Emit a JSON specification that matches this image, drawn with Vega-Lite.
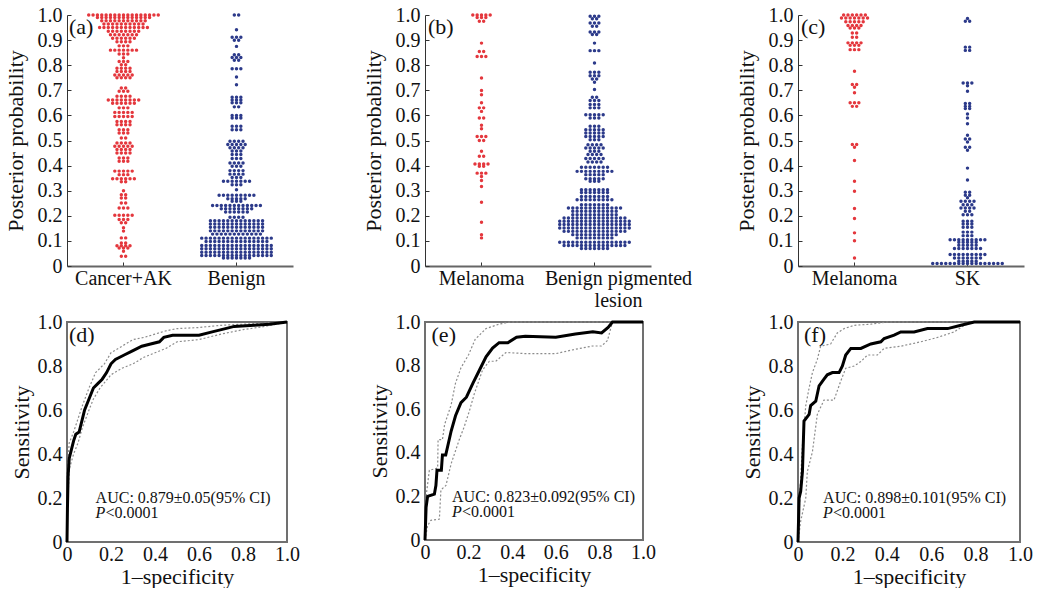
{
  "$schema": "https://vega.github.io/schema/vega-lite/v6.json",
  "background": "white",
  "padding": {"left": 4, "top": 5, "right": 4, "bottom": 0},
  "columns": 3,
  "bounds": "flush",
  "spacing": {"row": 56, "column": 132},
  "config": {
    "font": "Liberation Serif",
    "axis": {"labelFont": "Liberation Serif", "titleFont": "Liberation Serif", "labelFontSize": 20, "titleFontSize": 22, "titleFontWeight": "normal", "labelColor": "#111", "titleColor": "#111", "grid": false, "labelFlush": false, "labelOverlap": false},
    "axisY": {"values": [0,0.1,0.2,0.3,0.4,0.5,0.6,0.7,0.8,0.9,1]}
  },
  "concat": [
    {
      "width": 226, "height": 251,
      "view": {"stroke": null},
      "layer": [
        {
          "data": {"values": [1,1,1,1,1,1,1,1,1,1,1,1,1,1,1,1,1,
            0.99,0.99,0.99,0.99,0.99,0.99,0.99,0.99,0.99,0.99,0.99,0.99,0.99,
            0.977,0.977,0.977,0.977,0.977,0.977,0.977,0.977,0.977,0.977,0.977,
            0.964,0.964,0.964,0.964,0.964,0.964,0.964,0.964,0.964,0.964,
            0.95,0.95,0.95,0.95,0.95,0.95,0.95,0.95,0.95,0.95,0.95,0.95,
            0.935,0.935,0.935,0.935,0.935,0.935,0.935,0.935,
            0.921,0.921,0.921,0.921,0.921,0.921,0.921,
            0.907,0.907,0.907,0.907,0.907,0.907,
            0.893,0.893,0.893,0.893,
            0.877,0.877,0.877,
            0.86,0.86,0.86,0.86,0.86,0.86,0.86,
            0.845,0.845,0.845,
            0.83,
            0.815,0.815,0.815,
            0.802,0.802,
            0.788,0.788,0.788,0.788,
            0.775,0.775,0.775,0.775,
            0.761,0.761,0.761,0.761,0.761,
            0.75,0.75,0.75,0.75,
            0.709,0.709,
            0.696,0.696,0.696,
            0.676,0.676,0.676,0.676,
            0.661,0.661,0.661,0.661,0.661,0.661,0.661,0.661,
            0.648,0.648,0.648,0.648,0.648,0.648,
            0.63,0.63,0.63,
            0.612,0.612,0.612,0.612,0.612,
            0.596,0.596,0.596,0.596,0.596,
            0.576,0.576,0.576,0.576,
            0.563,0.563,0.563,0.563,
            0.543,0.543,0.543,
            0.53,0.53,0.53,
            0.51,0.51,
            0.49,0.49,0.49,0.49,
            0.477,0.477,0.477,0.477,0.477,
            0.464,0.464,0.464,0.464,
            0.45,0.45,0.45,0.45,
            0.43,0.43,0.43,
            0.417,0.417,0.417,
            0.378,0.378,0.378,0.378,0.378,
            0.364,0.364,0.364,
            0.348,0.348,0.348,0.348,0.348,0.348,
            0.336,0.336,
            0.3,
            0.284,0.284,
            0.271,0.271,
            0.251,0.251,
            0.231,0.231,0.231,
            0.202,0.202,0.202,0.202,0.202,
            0.185,0.185,0.185,
            0.172,0.172,
            0.152,
            0.139,
            0.112,0.112,
            0.092,0.092,
            0.081,0.081,0.081,0.081,
            0.072,0.072,0.072,
            0.059,
            0.039,0.039]},
          "transform": [
            {"joinaggregate": [{"op": "count", "as": "n"}], "groupby": ["data"]},
            {"window": [{"op": "row_number", "as": "k"}], "groupby": ["data"]},
            {"calculate": "datum.k - 1 - (datum.n - 1) / 2", "as": "off"}
          ],
          "mark": {"type": "circle", "size": 12, "opacity": 1, "color": "#e4373d"},
          "encoding": {
            "x": {"datum": "Cancer+AK", "type": "nominal", "scale": {"type": "band", "domain": ["Cancer+AK", "Benign"], "paddingInner": 0, "paddingOuter": 0},
              "axis": {"title": null, "labelAngle": 0, "domainColor": "#666", "domainWidth": 2, "tickColor": "#333", "tickSize": -4, "labelPadding": 6}},
            "xOffset": {"field": "off", "type": "quantitative", "scale": {"domain": [-13, 13], "nice": false, "zero": false}},
            "y": {"field": "data", "type": "quantitative", "scale": {"domain": [0, 1], "nice": false},
              "axis": {"title": "Posterior probability", "values": [0,0.1,0.2,0.3,0.4,0.5,0.6,0.7,0.8,0.9,1], "labelExpr": "datum.value == 0 ? '0' : format(datum.value, '.1f')", "domainColor": "#333", "tickColor": "#333", "tickSize": -4, "labelPadding": 9, "titlePadding": 10}}
          }
        },
        {
          "data": {"values": [1,1,
            0.941,
            0.911,0.911,0.911,
            0.899,0.899,
            0.875,
            0.842,0.842,
            0.831,0.831,0.831,
            0.82,0.82,
            0.786,0.786,0.786,
            0.753,
            0.722,
            0.672,0.672,0.672,
            0.661,0.661,0.661,
            0.65,0.65,0.65,
            0.634,0.634,
            0.6,0.6,0.6,
            0.59,0.59,0.59,
            0.557,0.557,0.557,
            0.543,0.543,0.543,
            0.497,0.497,0.497,0.497,
            0.484,0.484,0.484,0.484,0.484,
            0.471,0.471,0.471,0.471,
            0.458,0.458,0.458,
            0.444,0.444,0.444,
            0.428,0.428,0.428,
            0.41,0.41,0.41,0.41,
            0.397,0.397,0.397,
            0.38,0.38,0.38,0.38,
            0.366,0.366,0.366,0.366,
            0.353,0.353,0.353,
            0.338,0.338,0.338,0.338,0.338,0.338,0.338,
            0.324,0.324,0.324,
            0.304,
            0.282,0.282,0.282,0.282,0.282,0.282,0.282,0.282,0.282,
            0.268,0.268,0.268,0.268,0.268,
            0.258,0.258,0.258,
            0.241,0.241,0.241,0.241,0.241,0.241,0.241,0.241,0.241,0.241,0.241,0.241,
            0.228,0.228,0.228,0.228,0.228,0.228,0.228,0.228,
            0.215,0.215,0.215,0.215,0.215,0.215,
            0.194,0.194,0.194,0.194,
            0.18,0.18,0.18,0.18,0.18,0.18,0.18,0.18,0.18,0.18,0.18,0.18,0.18,
            0.167,0.167,0.167,0.167,0.167,0.167,0.167,0.167,0.167,0.167,0.167,0.167,0.167,
            0.154,0.154,0.154,0.154,0.154,0.154,0.154,0.154,0.154,0.154,0.154,0.154,0.154,
            0.14,0.14,0.14,0.14,0.14,0.14,0.14,0.14,0.14,0.14,0.14,0.14,0.14,
            0.127,0.127,0.127,0.127,0.127,0.127,0.127,0.127,0.127,0.127,0.127,0.127,
            0.111,0.111,0.111,0.111,0.111,0.111,0.111,0.111,0.111,0.111,0.111,0.111,0.111,0.111,0.111,0.111,0.111,
            0.098,0.098,0.098,0.098,0.098,0.098,0.098,0.098,0.098,0.098,0.098,0.098,0.098,0.098,0.098,
            0.082,0.082,0.082,0.082,0.082,0.082,0.082,0.082,0.082,0.082,0.082,0.082,0.082,0.082,0.082,0.082,0.082,
            0.069,0.069,0.069,0.069,0.069,0.069,0.069,0.069,0.069,0.069,0.069,0.069,0.069,0.069,0.069,0.069,0.069,
            0.055,0.055,0.055,0.055,0.055,0.055,0.055,0.055,0.055,0.055,0.055,0.055,0.055,0.055,0.055,0.055,0.055,
            0.042,0.042,0.042,0.042,0.042,0.042,0.042,0.042,0.042,0.042,0.042,0.042,0.042,0.042,0.042,0.042,0.042,
            0.032,0.032,0.032,0.032,0.032,0.032,0.032]},
          "transform": [
            {"joinaggregate": [{"op": "count", "as": "n"}], "groupby": ["data"]},
            {"window": [{"op": "row_number", "as": "k"}], "groupby": ["data"]},
            {"calculate": "datum.k - 1 - (datum.n - 1) / 2", "as": "off"}
          ],
          "mark": {"type": "circle", "size": 12, "opacity": 1, "color": "#2c3a8a"},
          "encoding": {
            "x": {"datum": "Benign", "type": "nominal", "scale": {"type": "band", "domain": ["Cancer+AK", "Benign"], "paddingInner": 0, "paddingOuter": 0}},
            "xOffset": {"field": "off", "type": "quantitative", "scale": {"domain": [-13, 13], "nice": false, "zero": false}},
            "y": {"field": "data", "type": "quantitative", "scale": {"domain": [0, 1], "nice": false},
              "axis": {"title": "Posterior probability", "values": [0,0.1,0.2,0.3,0.4,0.5,0.6,0.7,0.8,0.9,1], "labelExpr": "datum.value == 0 ? '0' : format(datum.value, '.1f')", "domainColor": "#333", "tickColor": "#333", "tickSize": -4, "labelPadding": 9, "titlePadding": 10}}
          }
        },
        {
          "data": {"values": [{"t": "(a)", "data": 0.954}]},
          "mark": {"type": "text", "align": "left", "baseline": "middle", "fontSize": 22, "font": "Liberation Serif", "dx": 2, "color": "#111"},
          "encoding": {
            "x": {"datum": "Cancer+AK", "type": "nominal", "bandPosition": 0, "scale": {"type": "band", "domain": ["Cancer+AK", "Benign"], "paddingInner": 0, "paddingOuter": 0}},
            "y": {"field": "data", "type": "quantitative", "scale": {"domain": [0, 1], "nice": false},
              "axis": {"title": "Posterior probability", "values": [0,0.1,0.2,0.3,0.4,0.5,0.6,0.7,0.8,0.9,1], "labelExpr": "datum.value == 0 ? '0' : format(datum.value, '.1f')", "domainColor": "#333", "tickColor": "#333", "tickSize": -4, "labelPadding": 9, "titlePadding": 10}},
            "text": {"field": "t"}
          }
        }
      ]
    },
    {
      "width": 241, "height": 251,
      "view": {"stroke": null},
      "layer": [
        {
          "data": {"values": [1,1,1,1,1,
            0.99,0.99,0.99,
            0.975,0.975,
            0.888,
            0.855,0.855,
            0.835,0.835,0.835,
            0.749,
            0.699,
            0.682,
            0.65,
            0.63,0.63,
            0.616,
            0.59,0.59,
            0.561,
            0.547,
            0.516,0.516,0.516,
            0.5,0.5,
            0.457,
            0.437,0.437,
            0.406,0.406,0.406,0.406,
            0.397,0.397,
            0.37,0.37,0.37,
            0.357,
            0.341,
            0.317,
            0.254,
            0.174,
            0.125,
            0.112]},
          "transform": [
            {"joinaggregate": [{"op": "count", "as": "n"}], "groupby": ["data"]},
            {"window": [{"op": "row_number", "as": "k"}], "groupby": ["data"]},
            {"calculate": "datum.k - 1 - (datum.n - 1) / 2", "as": "off"}
          ],
          "mark": {"type": "circle", "size": 12, "opacity": 1, "color": "#e4373d"},
          "encoding": {
            "x": {"datum": "Melanoma", "type": "nominal", "scale": {"type": "band", "domain": ["Melanoma", "Benign pigmented lesion"], "range": [0, 226], "paddingInner": 0, "paddingOuter": 0},
              "axis": {"title": null, "labelAngle": 0, "domainColor": "#666", "domainWidth": 2, "tickColor": "#333", "tickSize": -4, "labelPadding": 6, "labelLineHeight": 22,
                "labelExpr": "datum.value == 'Benign pigmented lesion' ? ['Benign pigmented', 'lesion'] : datum.label",
                "labelOffset": {"condition": {"test": "datum.value == 'Benign pigmented lesion'", "value": 24}, "value": 0}}},
            "xOffset": {"field": "off", "type": "quantitative", "scale": {"domain": [-13, 13], "nice": false, "zero": false}},
            "y": {"field": "data", "type": "quantitative", "scale": {"domain": [0, 1], "nice": false},
              "axis": {"title": "Posterior probability", "values": [0,0.1,0.2,0.3,0.4,0.5,0.6,0.7,0.8,0.9,1], "labelExpr": "datum.value == 0 ? '0' : format(datum.value, '.1f')", "domainColor": "#333", "tickColor": "#333", "tickSize": -4, "labelPadding": 9, "titlePadding": 10}}
          }
        },
        {
          "data": {"values": [0.995,0.995,0.995,
            0.985,0.985,
            0.968,0.968,0.968,
            0.955,0.955,
            0.932,0.932,0.932,
            0.922,0.922,
            0.888,
            0.858,0.858,0.858,
            0.809,
            0.772,0.772,0.772,
            0.758,0.758,0.758,
            0.745,0.745,
            0.732,
            0.703,
            0.672,0.672,
            0.659,0.659,0.659,
            0.643,0.643,0.643,
            0.63,0.63,0.63,
            0.603,0.603,0.603,0.603,0.603,
            0.59,0.59,0.59,
            0.557,0.557,0.557,
            0.543,0.543,0.543,0.543,0.543,
            0.53,0.53,0.53,0.53,0.53,
            0.516,0.516,0.516,0.516,0.516,
            0.503,0.503,0.503,
            0.483,0.483,0.483,0.483,
            0.47,0.47,0.47,0.47,0.47,
            0.457,0.457,0.457,
            0.444,0.444,0.444,0.444,
            0.428,0.428,0.428,0.428,0.428,
            0.414,0.414,0.414,0.414,
            0.393,0.393,0.393,0.393,0.393,0.393,0.393,
            0.377,0.377,0.377,0.377,0.377,0.377,0.377,0.377,0.377,
            0.364,0.364,0.364,0.364,0.364,
            0.348,0.348,0.348,0.348,0.348,
            0.338,0.338,0.338,
            0.304,0.304,0.304,0.304,0.304,0.304,0.304,
            0.293,0.293,0.293,0.293,0.293,0.293,0.293,
            0.277,0.277,0.277,0.277,0.277,0.277,0.277,
            0.264,0.264,0.264,0.264,0.264,0.264,0.264,0.264,0.264,
            0.244,0.244,0.244,0.244,0.244,0.244,0.244,
            0.231,0.231,0.231,0.231,0.231,0.231,0.231,0.231,0.231,0.231,0.231,0.231,0.231,
            0.218,0.218,0.218,0.218,0.218,0.218,0.218,0.218,0.218,0.218,0.218,
            0.204,0.204,0.204,0.204,0.204,0.204,0.204,0.204,0.204,0.204,0.204,
            0.191,0.191,0.191,0.191,0.191,0.191,0.191,0.191,0.191,0.191,0.191,0.191,0.191,0.191,0.191,
            0.178,0.178,0.178,0.178,0.178,0.178,0.178,0.178,0.178,0.178,0.178,0.178,0.178,0.178,0.178,0.178,0.178,
            0.165,0.165,0.165,0.165,0.165,0.165,0.165,0.165,0.165,0.165,0.165,0.165,0.165,0.165,0.165,0.165,0.165,
            0.151,0.151,0.151,0.151,0.151,0.151,0.151,0.151,0.151,0.151,0.151,0.151,0.151,0.151,0.151,0.151,0.151,
            0.138,0.138,0.138,0.138,0.138,0.138,0.138,0.138,0.138,0.138,0.138,0.138,0.138,0.138,0.138,
            0.125,0.125,0.125,0.125,0.125,0.125,0.125,0.125,0.125,0.125,0.125,
            0.112,0.112,0.112,0.112,0.112,0.112,0.112,0.112,0.112,
            0.095,0.095,0.095,0.095,0.095,0.095,0.095,0.095,0.095,0.095,0.095,0.095,0.095,0.095,0.095,0.095,0.095,
            0.082,0.082,0.082,0.082,0.082,0.082,0.082,0.082,0.082,0.082,0.082,0.082,0.082,0.082,0.082,
            0.07,0.07,0.07,0.07,0.07,0.07,0.07]},
          "transform": [
            {"joinaggregate": [{"op": "count", "as": "n"}], "groupby": ["data"]},
            {"window": [{"op": "row_number", "as": "k"}], "groupby": ["data"]},
            {"calculate": "datum.k - 1 - (datum.n - 1) / 2", "as": "off"}
          ],
          "mark": {"type": "circle", "size": 12, "opacity": 1, "color": "#2c3a8a"},
          "encoding": {
            "x": {"datum": "Benign pigmented lesion", "type": "nominal", "scale": {"type": "band", "domain": ["Melanoma", "Benign pigmented lesion"], "range": [0, 226], "paddingInner": 0, "paddingOuter": 0}},
            "xOffset": {"field": "off", "type": "quantitative", "scale": {"domain": [-13, 13], "nice": false, "zero": false}},
            "y": {"field": "data", "type": "quantitative", "scale": {"domain": [0, 1], "nice": false},
              "axis": {"title": "Posterior probability", "values": [0,0.1,0.2,0.3,0.4,0.5,0.6,0.7,0.8,0.9,1], "labelExpr": "datum.value == 0 ? '0' : format(datum.value, '.1f')", "domainColor": "#333", "tickColor": "#333", "tickSize": -4, "labelPadding": 9, "titlePadding": 10}}
          }
        },
        {
          "data": {"values": [{"t": "(b)", "data": 0.954}]},
          "mark": {"type": "text", "align": "left", "baseline": "middle", "fontSize": 22, "font": "Liberation Serif", "dx": 3, "color": "#111"},
          "encoding": {
            "x": {"datum": "Melanoma", "type": "nominal", "bandPosition": 0, "scale": {"type": "band", "domain": ["Melanoma", "Benign pigmented lesion"], "range": [0, 226], "paddingInner": 0, "paddingOuter": 0}},
            "y": {"field": "data", "type": "quantitative", "scale": {"domain": [0, 1], "nice": false},
              "axis": {"title": "Posterior probability", "values": [0,0.1,0.2,0.3,0.4,0.5,0.6,0.7,0.8,0.9,1], "labelExpr": "datum.value == 0 ? '0' : format(datum.value, '.1f')", "domainColor": "#333", "tickColor": "#333", "tickSize": -4, "labelPadding": 9, "titlePadding": 10}},
            "text": {"field": "t"}
          }
        }
      ]
    },
    {
      "width": 226, "height": 251,
      "view": {"stroke": null},
      "layer": [
        {
          "data": {"values": [1,1,1,1,1,1,
            0.988,0.988,0.988,0.988,0.988,0.988,0.988,
            0.973,0.973,0.973,0.973,0.973,
            0.958,0.958,0.958,0.958,
            0.948,0.948,0.948,
            0.928,0.928,
            0.911,0.911,
            0.889,0.889,0.889,0.889,
            0.879,0.879,0.879,
            0.862,0.862,0.862,
            0.776,
            0.723,0.723,
            0.712,
            0.69,
            0.65,0.65,0.65,
            0.636,0.636,
            0.484,0.484,
            0.473,
            0.42,
            0.338,
            0.298,
            0.229,
            0.189,
            0.132,
            0.101,
            0.032]},
          "transform": [
            {"joinaggregate": [{"op": "count", "as": "n"}], "groupby": ["data"]},
            {"window": [{"op": "row_number", "as": "k"}], "groupby": ["data"]},
            {"calculate": "datum.k - 1 - (datum.n - 1) / 2", "as": "off"}
          ],
          "mark": {"type": "circle", "size": 12, "opacity": 1, "color": "#e4373d"},
          "encoding": {
            "x": {"datum": "Melanoma", "type": "nominal", "scale": {"type": "band", "domain": ["Melanoma", "SK"], "paddingInner": 0, "paddingOuter": 0},
              "axis": {"title": null, "labelAngle": 0, "domainColor": "#666", "domainWidth": 2, "tickColor": "#333", "tickSize": -4, "labelPadding": 6}},
            "xOffset": {"field": "off", "type": "quantitative", "scale": {"domain": [-13, 13], "nice": false, "zero": false}},
            "y": {"field": "data", "type": "quantitative", "scale": {"domain": [0, 1], "nice": false},
              "axis": {"title": "Posterior probability", "values": [0,0.1,0.2,0.3,0.4,0.5,0.6,0.7,0.8,0.9,1], "labelExpr": "datum.value == 0 ? '0' : format(datum.value, '.1f')", "domainColor": "#333", "tickColor": "#333", "tickSize": -4, "labelPadding": 9, "titlePadding": 10}}
          }
        },
        {
          "data": {"values": [0.986,
            0.975,0.975,
            0.872,0.872,
            0.859,0.859,
            0.729,0.729,0.729,
            0.718,
            0.696,
            0.647,0.647,
            0.636,0.636,
            0.627,0.627,
            0.606,
            0.59,
            0.567,
            0.521,
            0.506,0.506,
            0.494,
            0.473,0.473,
            0.461,
            0.39,
            0.343,
            0.294,0.294,
            0.282,0.282,
            0.272,
            0.258,0.258,0.258,0.258,
            0.244,0.244,0.244,
            0.231,0.231,0.231,0.231,
            0.218,0.218,
            0.204,0.204,0.204,
            0.178,0.178,0.178,
            0.167,0.167,0.167,
            0.154,0.154,0.154,
            0.135,0.135,0.135,
            0.121,0.121,0.121,
            0.105,0.105,0.105,0.105,0.105,0.105,0.105,0.105,0.105,
            0.095,0.095,0.095,0.095,0.095,
            0.083,0.083,0.083,0.083,0.083,
            0.07,0.07,0.07,0.07,0.07,0.07,0.07,
            0.046,0.046,0.046,0.046,0.046,0.046,0.046,0.046,0.046,
            0.032,0.032,0.032,0.032,0.032,0.032,0.032,
            0.019,0.019,0.019,0.019,0.019,
            0.01,0.01,0.01,0.01,0.01,0.01,0.01,0.01,0.01,0.01,0.01,0.01,0.01,0.01,0.01,0.01,0.01]},
          "transform": [
            {"joinaggregate": [{"op": "count", "as": "n"}], "groupby": ["data"]},
            {"window": [{"op": "row_number", "as": "k"}], "groupby": ["data"]},
            {"calculate": "datum.k - 1 - (datum.n - 1) / 2", "as": "off"}
          ],
          "mark": {"type": "circle", "size": 12, "opacity": 1, "color": "#2c3a8a"},
          "encoding": {
            "x": {"datum": "SK", "type": "nominal", "scale": {"type": "band", "domain": ["Melanoma", "SK"], "paddingInner": 0, "paddingOuter": 0}},
            "xOffset": {"field": "off", "type": "quantitative", "scale": {"domain": [-13, 13], "nice": false, "zero": false}},
            "y": {"field": "data", "type": "quantitative", "scale": {"domain": [0, 1], "nice": false},
              "axis": {"title": "Posterior probability", "values": [0,0.1,0.2,0.3,0.4,0.5,0.6,0.7,0.8,0.9,1], "labelExpr": "datum.value == 0 ? '0' : format(datum.value, '.1f')", "domainColor": "#333", "tickColor": "#333", "tickSize": -4, "labelPadding": 9, "titlePadding": 10}}
          }
        },
        {
          "data": {"values": [{"t": "(c)", "data": 0.954}]},
          "mark": {"type": "text", "align": "left", "baseline": "middle", "fontSize": 22, "font": "Liberation Serif", "dx": 3, "color": "#111"},
          "encoding": {
            "x": {"datum": "Melanoma", "type": "nominal", "bandPosition": 0, "scale": {"type": "band", "domain": ["Melanoma", "SK"], "paddingInner": 0, "paddingOuter": 0}},
            "y": {"field": "data", "type": "quantitative", "scale": {"domain": [0, 1], "nice": false},
              "axis": {"title": "Posterior probability", "values": [0,0.1,0.2,0.3,0.4,0.5,0.6,0.7,0.8,0.9,1], "labelExpr": "datum.value == 0 ? '0' : format(datum.value, '.1f')", "domainColor": "#333", "tickColor": "#333", "tickSize": -4, "labelPadding": 9, "titlePadding": 10}},
            "text": {"field": "t"}
          }
        }
      ]
    },
    {
      "width": 220, "height": 220,
      "view": {"stroke": "#707070", "strokeWidth": 2},
      "layer": [
        {
          "data": {"values": [
            {"s":"up","x":0,"y":0.3},{"s":"up","x":0.01,"y":0.45},{"s":"up","x":0.03,"y":0.5},{"s":"up","x":0.05,"y":0.56},{"s":"up","x":0.07,"y":0.62},{"s":"up","x":0.1,"y":0.7},{"s":"up","x":0.13,"y":0.77},{"s":"up","x":0.17,"y":0.81},{"s":"up","x":0.2,"y":0.86},{"s":"up","x":0.25,"y":0.89},{"s":"up","x":0.3,"y":0.92},{"s":"up","x":0.35,"y":0.93},{"s":"up","x":0.4,"y":0.945},{"s":"up","x":0.45,"y":0.96},{"s":"up","x":0.5,"y":0.97},{"s":"up","x":0.6,"y":0.975},{"s":"up","x":0.7,"y":0.985},{"s":"up","x":0.8,"y":0.99},{"s":"up","x":0.9,"y":0.995},{"s":"up","x":1,"y":1},
            {"s":"lo","x":0,"y":0.1},{"s":"lo","x":0.01,"y":0.33},{"s":"lo","x":0.03,"y":0.4},{"s":"lo","x":0.05,"y":0.45},{"s":"lo","x":0.07,"y":0.52},{"s":"lo","x":0.1,"y":0.6},{"s":"lo","x":0.12,"y":0.65},{"s":"lo","x":0.15,"y":0.7},{"s":"lo","x":0.2,"y":0.76},{"s":"lo","x":0.25,"y":0.79},{"s":"lo","x":0.3,"y":0.81},{"s":"lo","x":0.35,"y":0.84},{"s":"lo","x":0.4,"y":0.86},{"s":"lo","x":0.45,"y":0.88},{"s":"lo","x":0.5,"y":0.91},{"s":"lo","x":0.6,"y":0.92},{"s":"lo","x":0.7,"y":0.945},{"s":"lo","x":0.8,"y":0.965},{"s":"lo","x":0.9,"y":0.98},{"s":"lo","x":1,"y":1}
          ]},
          "mark": {"type": "line", "color": "#8c8c8c", "strokeWidth": 1.2, "strokeDash": [2, 2]},
          "encoding": {
            "x": {"field": "x", "type": "quantitative", "scale": {"domain": [0, 1], "nice": false},
              "axis": {"title": "1–specificity", "values": [0,0.2,0.4,0.6,0.8,1], "labelExpr": "datum.value == 0 ? '0' : format(datum.value, '.1f')", "domain": false, "ticks": false, "labelPadding": 2, "titlePadding": 2}},
            "y": {"field": "y", "type": "quantitative", "scale": {"domain": [0, 1], "nice": false},
              "axis": {"title": "Sensitivity", "values": [0,0.2,0.4,0.6,0.8,1], "labelExpr": "datum.value == 0 ? '0' : format(datum.value, '.1f')", "domain": false, "ticks": false, "labelPadding": 5, "titlePadding": 4}},
            "detail": {"field": "s"}
          }
        },
        {
          "data": {"values": [
            {"x":0,"y":0},{"x":0.002,"y":0.15},{"x":0.005,"y":0.3},{"x":0.01,"y":0.38},{"x":0.02,"y":0.42},{"x":0.03,"y":0.46},{"x":0.04,"y":0.49},{"x":0.055,"y":0.5},{"x":0.07,"y":0.56},{"x":0.08,"y":0.6},{"x":0.1,"y":0.65},{"x":0.12,"y":0.7},{"x":0.14,"y":0.72},{"x":0.16,"y":0.74},{"x":0.18,"y":0.77},{"x":0.2,"y":0.81},{"x":0.22,"y":0.83},{"x":0.26,"y":0.85},{"x":0.3,"y":0.87},{"x":0.34,"y":0.89},{"x":0.38,"y":0.9},{"x":0.42,"y":0.91},{"x":0.44,"y":0.93},{"x":0.48,"y":0.94},{"x":0.6,"y":0.94},{"x":0.66,"y":0.955},{"x":0.72,"y":0.97},{"x":0.76,"y":0.98},{"x":0.85,"y":0.985},{"x":0.92,"y":0.99},{"x":1,"y":1}
          ]},
          "mark": {"type": "line", "color": "#000", "strokeWidth": 3},
          "encoding": {"x": {"field": "x", "type": "quantitative"}, "y": {"field": "y", "type": "quantitative"}}
        },
        {
          "data": {"values": [{"t": "(d)", "x": 0.009, "y": 0.941}]},
          "mark": {"type": "text", "align": "left", "baseline": "middle", "fontSize": 22, "font": "Liberation Serif", "color": "#111"},
          "encoding": {"x": {"field": "x", "type": "quantitative"}, "y": {"field": "y", "type": "quantitative"}, "text": {"field": "t"}}
        },
        {
          "data": {"values": [{"t": "AUC: 0.879±0.05(95% CI)", "x": 0.13, "y": 0.2}]},
          "mark": {"type": "text", "align": "left", "baseline": "middle", "fontSize": 16, "font": "Liberation Serif", "color": "#111"},
          "encoding": {"x": {"field": "x", "type": "quantitative"}, "y": {"field": "y", "type": "quantitative"}, "text": {"field": "t"}}
        },
        {
          "data": {"values": [{"t": "P", "x": 0.13, "y": 0.132}]},
          "mark": {"type": "text", "align": "left", "baseline": "middle", "fontSize": 16, "font": "Liberation Serif", "fontStyle": "italic", "color": "#111"},
          "encoding": {"x": {"field": "x", "type": "quantitative"}, "y": {"field": "y", "type": "quantitative"}, "text": {"field": "t"}}
        },
        {
          "data": {"values": [{"t": "<0.0001", "x": 0.13, "y": 0.132}]},
          "mark": {"type": "text", "align": "left", "baseline": "middle", "fontSize": 16, "font": "Liberation Serif", "dx": 10, "color": "#111"},
          "encoding": {"x": {"field": "x", "type": "quantitative"}, "y": {"field": "y", "type": "quantitative"}, "text": {"field": "t"}}
        }
      ]
    },
    {
      "width": 218, "height": 218,
      "view": {"stroke": "#707070", "strokeWidth": 2},
      "layer": [
        {
          "data": {"values": [
            {"s":"up","x":0,"y":0},{"s":"up","x":0.005,"y":0.2},{"s":"up","x":0.02,"y":0.32},{"s":"up","x":0.058,"y":0.33},{"s":"up","x":0.06,"y":0.46},{"s":"up","x":0.08,"y":0.46},{"s":"up","x":0.09,"y":0.53},{"s":"up","x":0.12,"y":0.62},{"s":"up","x":0.14,"y":0.72},{"s":"up","x":0.165,"y":0.79},{"s":"up","x":0.2,"y":0.85},{"s":"up","x":0.23,"y":0.92},{"s":"up","x":0.28,"y":0.97},{"s":"up","x":0.34,"y":0.99},{"s":"up","x":0.39,"y":1},{"s":"up","x":1,"y":1},
            {"s":"lo","x":0,"y":0},{"s":"lo","x":0.012,"y":0.066},{"s":"lo","x":0.027,"y":0.09},{"s":"lo","x":0.066,"y":0.096},{"s":"lo","x":0.073,"y":0.23},{"s":"lo","x":0.096,"y":0.25},{"s":"lo","x":0.12,"y":0.35},{"s":"lo","x":0.157,"y":0.46},{"s":"lo","x":0.18,"y":0.52},{"s":"lo","x":0.203,"y":0.59},{"s":"lo","x":0.226,"y":0.67},{"s":"lo","x":0.264,"y":0.78},{"s":"lo","x":0.295,"y":0.82},{"s":"lo","x":0.325,"y":0.82},{"s":"lo","x":0.371,"y":0.86},{"s":"lo","x":0.463,"y":0.855},{"s":"lo","x":0.6,"y":0.855},{"s":"lo","x":0.69,"y":0.875},{"s":"lo","x":0.77,"y":0.89},{"s":"lo","x":0.81,"y":0.89},{"s":"lo","x":0.837,"y":0.915},{"s":"lo","x":0.86,"y":1},{"s":"lo","x":1,"y":1}
          ]},
          "mark": {"type": "line", "color": "#8c8c8c", "strokeWidth": 1.2, "strokeDash": [2, 2]},
          "encoding": {
            "x": {"field": "x", "type": "quantitative", "scale": {"domain": [0, 1], "nice": false},
              "axis": {"title": "1–specificity", "values": [0,0.2,0.4,0.6,0.8,1], "labelExpr": "datum.value == 0 ? '0' : format(datum.value, '.1f')", "domain": false, "ticks": false, "labelPadding": 2, "titlePadding": 2}},
            "y": {"field": "y", "type": "quantitative", "scale": {"domain": [0, 1], "nice": false},
              "axis": {"title": "Sensitivity", "values": [0,0.2,0.4,0.6,0.8,1], "labelExpr": "datum.value == 0 ? '0' : format(datum.value, '.1f')", "domain": false, "ticks": false, "labelPadding": 5, "titlePadding": 4}},
            "detail": {"field": "s"}
          }
        },
        {
          "data": {"values": [
            {"x":0,"y":0},{"x":0.005,"y":0.15},{"x":0.012,"y":0.2},{"x":0.043,"y":0.21},{"x":0.05,"y":0.25},{"x":0.055,"y":0.32},{"x":0.075,"y":0.32},{"x":0.08,"y":0.39},{"x":0.095,"y":0.39},{"x":0.12,"y":0.5},{"x":0.14,"y":0.57},{"x":0.165,"y":0.63},{"x":0.19,"y":0.655},{"x":0.22,"y":0.72},{"x":0.25,"y":0.78},{"x":0.28,"y":0.84},{"x":0.31,"y":0.88},{"x":0.34,"y":0.905},{"x":0.38,"y":0.905},{"x":0.42,"y":0.93},{"x":0.46,"y":0.935},{"x":0.6,"y":0.93},{"x":0.69,"y":0.945},{"x":0.77,"y":0.955},{"x":0.81,"y":0.95},{"x":0.84,"y":0.975},{"x":0.86,"y":1},{"x":1,"y":1}
          ]},
          "mark": {"type": "line", "color": "#000", "strokeWidth": 3},
          "encoding": {"x": {"field": "x", "type": "quantitative"}, "y": {"field": "y", "type": "quantitative"}}
        },
        {
          "data": {"values": [{"t": "(e)", "x": 0.03, "y": 0.94}]},
          "mark": {"type": "text", "align": "left", "baseline": "middle", "fontSize": 22, "font": "Liberation Serif", "color": "#111"},
          "encoding": {"x": {"field": "x", "type": "quantitative"}, "y": {"field": "y", "type": "quantitative"}, "text": {"field": "t"}}
        },
        {
          "data": {"values": [{"t": "AUC: 0.823±0.092(95% CI)", "x": 0.124, "y": 0.197}]},
          "mark": {"type": "text", "align": "left", "baseline": "middle", "fontSize": 16, "font": "Liberation Serif", "color": "#111"},
          "encoding": {"x": {"field": "x", "type": "quantitative"}, "y": {"field": "y", "type": "quantitative"}, "text": {"field": "t"}}
        },
        {
          "data": {"values": [{"t": "P", "x": 0.124, "y": 0.128}]},
          "mark": {"type": "text", "align": "left", "baseline": "middle", "fontSize": 16, "font": "Liberation Serif", "fontStyle": "italic", "color": "#111"},
          "encoding": {"x": {"field": "x", "type": "quantitative"}, "y": {"field": "y", "type": "quantitative"}, "text": {"field": "t"}}
        },
        {
          "data": {"values": [{"t": "<0.0001", "x": 0.124, "y": 0.128}]},
          "mark": {"type": "text", "align": "left", "baseline": "middle", "fontSize": 16, "font": "Liberation Serif", "dx": 10, "color": "#111"},
          "encoding": {"x": {"field": "x", "type": "quantitative"}, "y": {"field": "y", "type": "quantitative"}, "text": {"field": "t"}}
        }
      ]
    },
    {
      "width": 222, "height": 220,
      "view": {"stroke": "#707070", "strokeWidth": 2},
      "layer": [
        {
          "data": {"values": [
            {"s":"up","x":0,"y":0},{"s":"up","x":0.009,"y":0.23},{"s":"up","x":0.02,"y":0.44},{"s":"up","x":0.035,"y":0.62},{"s":"up","x":0.05,"y":0.7},{"s":"up","x":0.065,"y":0.77},{"s":"up","x":0.087,"y":0.83},{"s":"up","x":0.102,"y":0.89},{"s":"up","x":0.147,"y":0.9},{"s":"up","x":0.177,"y":0.95},{"s":"up","x":0.208,"y":0.97},{"s":"up","x":0.253,"y":0.985},{"s":"up","x":0.328,"y":0.99},{"s":"up","x":0.4,"y":1},{"s":"up","x":1,"y":1},
            {"s":"lo","x":0,"y":0},{"s":"lo","x":0.012,"y":0.094},{"s":"lo","x":0.035,"y":0.2},{"s":"lo","x":0.042,"y":0.32},{"s":"lo","x":0.065,"y":0.41},{"s":"lo","x":0.087,"y":0.58},{"s":"lo","x":0.117,"y":0.645},{"s":"lo","x":0.162,"y":0.645},{"s":"lo","x":0.192,"y":0.73},{"s":"lo","x":0.215,"y":0.79},{"s":"lo","x":0.253,"y":0.8},{"s":"lo","x":0.283,"y":0.82},{"s":"lo","x":0.313,"y":0.85},{"s":"lo","x":0.358,"y":0.85},{"s":"lo","x":0.388,"y":0.88},{"s":"lo","x":0.463,"y":0.89},{"s":"lo","x":0.553,"y":0.91},{"s":"lo","x":0.629,"y":0.93},{"s":"lo","x":0.704,"y":0.955},{"s":"lo","x":0.749,"y":0.985},{"s":"lo","x":0.794,"y":1},{"s":"lo","x":1,"y":1}
          ]},
          "mark": {"type": "line", "color": "#8c8c8c", "strokeWidth": 1.2, "strokeDash": [2, 2]},
          "encoding": {
            "x": {"field": "x", "type": "quantitative", "scale": {"domain": [0, 1], "nice": false},
              "axis": {"title": "1–specificity", "values": [0,0.2,0.4,0.6,0.8,1], "labelExpr": "datum.value == 0 ? '0' : format(datum.value, '.1f')", "domain": false, "ticks": false, "labelPadding": 2, "titlePadding": 2}},
            "y": {"field": "y", "type": "quantitative", "scale": {"domain": [0, 1], "nice": false},
              "axis": {"title": "Sensitivity", "values": [0,0.2,0.4,0.6,0.8,1], "labelExpr": "datum.value == 0 ? '0' : format(datum.value, '.1f')", "domain": false, "ticks": false, "labelPadding": 5, "titlePadding": 4}},
            "detail": {"field": "s"}
          }
        },
        {
          "data": {"values": [
            {"x":0,"y":0},{"x":0.005,"y":0.2},{"x":0.012,"y":0.23},{"x":0.02,"y":0.32},{"x":0.027,"y":0.55},{"x":0.05,"y":0.58},{"x":0.057,"y":0.62},{"x":0.08,"y":0.64},{"x":0.095,"y":0.71},{"x":0.117,"y":0.74},{"x":0.132,"y":0.76},{"x":0.155,"y":0.77},{"x":0.185,"y":0.77},{"x":0.2,"y":0.8},{"x":0.215,"y":0.85},{"x":0.238,"y":0.88},{"x":0.283,"y":0.88},{"x":0.328,"y":0.9},{"x":0.373,"y":0.91},{"x":0.388,"y":0.925},{"x":0.433,"y":0.94},{"x":0.463,"y":0.955},{"x":0.523,"y":0.955},{"x":0.583,"y":0.97},{"x":0.674,"y":0.97},{"x":0.734,"y":0.985},{"x":0.794,"y":1},{"x":1,"y":1}
          ]},
          "mark": {"type": "line", "color": "#000", "strokeWidth": 3},
          "encoding": {"x": {"field": "x", "type": "quantitative"}, "y": {"field": "y", "type": "quantitative"}}
        },
        {
          "data": {"values": [{"t": "(f)", "x": 0.027, "y": 0.94}]},
          "mark": {"type": "text", "align": "left", "baseline": "middle", "fontSize": 22, "font": "Liberation Serif", "color": "#111"},
          "encoding": {"x": {"field": "x", "type": "quantitative"}, "y": {"field": "y", "type": "quantitative"}, "text": {"field": "t"}}
        },
        {
          "data": {"values": [{"t": "AUC: 0.898±0.101(95% CI)", "x": 0.113, "y": 0.2}]},
          "mark": {"type": "text", "align": "left", "baseline": "middle", "fontSize": 16, "font": "Liberation Serif", "color": "#111"},
          "encoding": {"x": {"field": "x", "type": "quantitative"}, "y": {"field": "y", "type": "quantitative"}, "text": {"field": "t"}}
        },
        {
          "data": {"values": [{"t": "P", "x": 0.113, "y": 0.132}]},
          "mark": {"type": "text", "align": "left", "baseline": "middle", "fontSize": 16, "font": "Liberation Serif", "fontStyle": "italic", "color": "#111"},
          "encoding": {"x": {"field": "x", "type": "quantitative"}, "y": {"field": "y", "type": "quantitative"}, "text": {"field": "t"}}
        },
        {
          "data": {"values": [{"t": "<0.0001", "x": 0.113, "y": 0.132}]},
          "mark": {"type": "text", "align": "left", "baseline": "middle", "fontSize": 16, "font": "Liberation Serif", "dx": 10, "color": "#111"},
          "encoding": {"x": {"field": "x", "type": "quantitative"}, "y": {"field": "y", "type": "quantitative"}, "text": {"field": "t"}}
        }
      ]
    }
  ]
}
